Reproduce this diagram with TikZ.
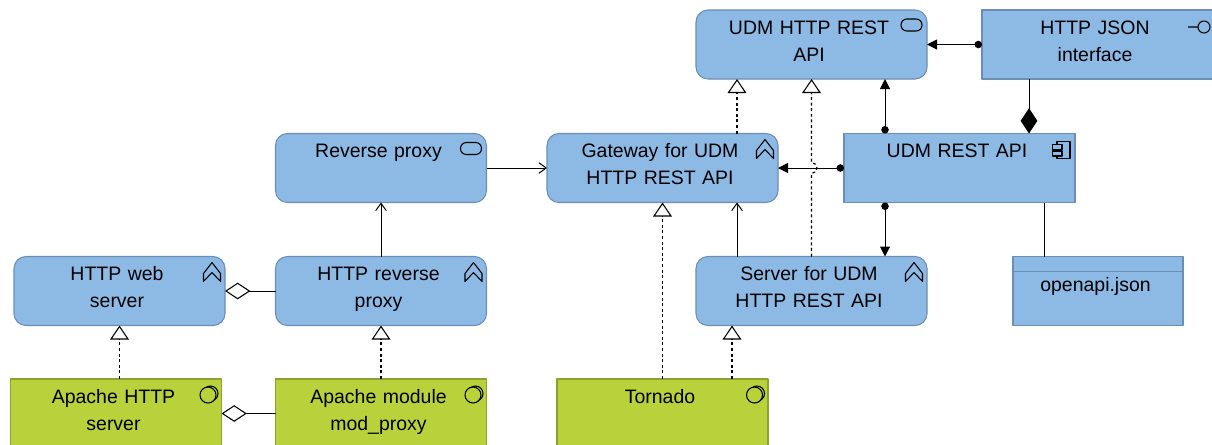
\documentclass[tikz,border=0pt]{standalone}
\usepackage{fontspec}
\setmainfont{Liberation Sans}
\usetikzlibrary{arrows.meta,calc}
\definecolor{boxblue}{HTML}{8DB9E5}
\definecolor{edgeblue}{HTML}{6C8EB4}
\definecolor{boxgreen}{HTML}{B9D13A}
\definecolor{edgegreen}{HTML}{8FA030}
\begin{document}
\begin{tikzpicture}[x=0.75pt, y=-0.75pt, line join=round, >=stealth,
	font=\fontsize{14.6}{20.25}\selectfont]
	\tikzset{
		box/.style={draw, line width=0.8pt, inner sep=0pt, outer sep=0pt, minimum height=51.75pt,
			text height=18.25pt, text depth=33.5pt,
			execute at begin node={\centering\advance\rightskip 3.75pt\relax}},
		wide/.style={text width=173.25pt, minimum width=173.25pt},
		narrow/.style={text width=158.25pt, minimum width=158.25pt},
		blueround/.style={box, fill=boxblue, draw=edgeblue, rounded corners=9pt},
		bluesquare/.style={box, fill=boxblue, draw=edgeblue},
		greensquare/.style={box, fill=boxgreen, draw=edgegreen},
		conn/.style={line width=0.75pt},
		serving/.style={conn, -{Straight Barb[length=5.5pt,width=8pt]}},
		assign/.style={conn, {Circle[length=5.6pt]}-{Triangle[length=7.5pt,width=7.5pt]}},
		realize/.style={line width=0.85pt, dash pattern=on 2.2pt off 2pt, -{Triangle[open,length=10.5pt,width=14pt,line width=0.8pt]}},
		aggregate/.style={conn, -{Diamond[open,length=19pt,width=12.5pt,line width=0.8pt]}},
		compose/.style={conn, -{Diamond[length=19pt,width=12.5pt]}},
		funcicon/.pic={\draw[line width=0.8pt] (-13,6) -- (-4.5,17) -- (-4.5,25) -- (-13,16) -- (-21.5,25) -- (-21.5,17) -- cycle;},
		svcicon/.pic={\draw[line width=0.8pt, rounded corners=4.4pt] (-26,9) rectangle (-5,21);},
		ifaceicon/.pic={\draw[line width=0.8pt] (-25,17) -- (-15,17) (-9,17) circle[radius=6];},
		compicon/.pic={\draw[line width=0.8pt] (-18,8) rectangle (-5,25);
			\draw[line width=0.8pt, fill=boxblue] (-22.5,11) rectangle (-13,16) (-22.5,17.5) rectangle (-13,22.5);},
		softicon/.pic={\draw[line width=0.8pt] (-11,14.5) circle[radius=7.5];
			\draw[line width=0.8pt, fill=boxgreen] (-13.5,16) circle[radius=8];}
	}
	\useasboundingbox (0,0) rectangle (1212,444);

	\node[blueround, wide] (udmhttp) at (811.5,44.5) {UDM HTTP REST\\API};
	\node[bluesquare, wide] (jsonif) at (1097.5,44.5) {HTTP JSON\\interface};
	\node[blueround, narrow] (revproxy) at (381,168) {Reverse proxy};
	\node[blueround, wide] (gateway) at (662.5,168) {Gateway for UDM\\HTTP REST API};
	\node[bluesquare, wide] (udmrest) at (959.5,168) {UDM REST API};
	\node[blueround, narrow] (webserver) at (119.5,291) {HTTP web\\server};
	\node[blueround, narrow] (httprev) at (381,291) {HTTP reverse\\proxy};
	\node[blueround, wide] (udmserver) at (811.5,291) {Server for UDM\\HTTP REST API};
	\node[bluesquare, text width=127.5pt, minimum width=127.5pt, text height=26.25pt, text depth=25.5pt] (openapi) at (1098,291) {openapi.json};
	\node[greensquare, narrow] (apache) at (116,413.5) {Apache HTTP\\server};
	\node[greensquare, narrow] (modproxy) at (381,413.5) {Apache module\\mod\_proxy};
	\node[greensquare, narrow] (tornado) at (662.5,413.5) {Tornado};

	\coordinate (xassign) at (885,0);
	\coordinate (xcompose) at (1029,0);
	\coordinate (xfile) at (1044,0);
	\coordinate (xgate) at (737,0);
	\coordinate (xtorn) at (732,0);
	\coordinate (jump) at (gateway.east -| udmhttp.south);

	\pic at (udmhttp.north east) {svcicon};
	\pic at (jsonif.north east) {ifaceicon};
	\pic at (revproxy.north east) {svcicon};
	\pic at (gateway.north east) {funcicon};
	\pic at (udmrest.north east) {compicon};
	\pic at (webserver.north east) {funcicon};
	\pic at (httprev.north east) {funcicon};
	\pic at (udmserver.north east) {funcicon};
	\pic at (apache.north east) {softicon};
	\pic at (modproxy.north east) {softicon};
	\pic at (tornado.north east) {softicon};
	\draw[line width=0.8pt, draw=edgeblue] (openapi.north west) ++(0,15) -- ++(170,0);

	\draw[assign] (jsonif.west) -- (udmhttp.east);
	\draw[assign] (udmrest.north -| xassign) -- (udmhttp.south -| xassign);
	\draw[assign] (udmrest.west) -- (gateway.east);
	\draw[assign] (udmrest.south -| xassign) -- (udmserver.north -| xassign);
	\draw[compose] (jsonif.south -| xcompose) -- (udmrest.north -| xcompose);
	\draw[conn] (udmrest.south -| xfile) -- (openapi.north -| xfile);
	\draw[serving] (revproxy.east) -- (gateway.west);
	\draw[serving] (httprev.north) -- (revproxy.south);
	\draw[serving] (udmserver.north -| xgate) -- (gateway.south -| xgate);
	\draw[realize] (gateway.north -| xgate) -- (udmhttp.south -| xgate);
	\draw[realize] (udmserver.north) -- ($(jump)+(0,5.5)$) arc[start angle=90, end angle=-90, radius=5.5] -- (udmhttp.south);
	\draw[realize] (tornado.north) -- (gateway.south);
	\draw[realize] (tornado.north -| xtorn) -- (udmserver.south -| xtorn);
	\draw[realize] (apache.north -| webserver.south) -- (webserver.south);
	\draw[realize] (modproxy.north) -- (httprev.south);
	\draw[aggregate] (httprev.west) -- (webserver.east);
	\draw[aggregate] (modproxy.west) -- (apache.east);
\end{tikzpicture}
\end{document}
